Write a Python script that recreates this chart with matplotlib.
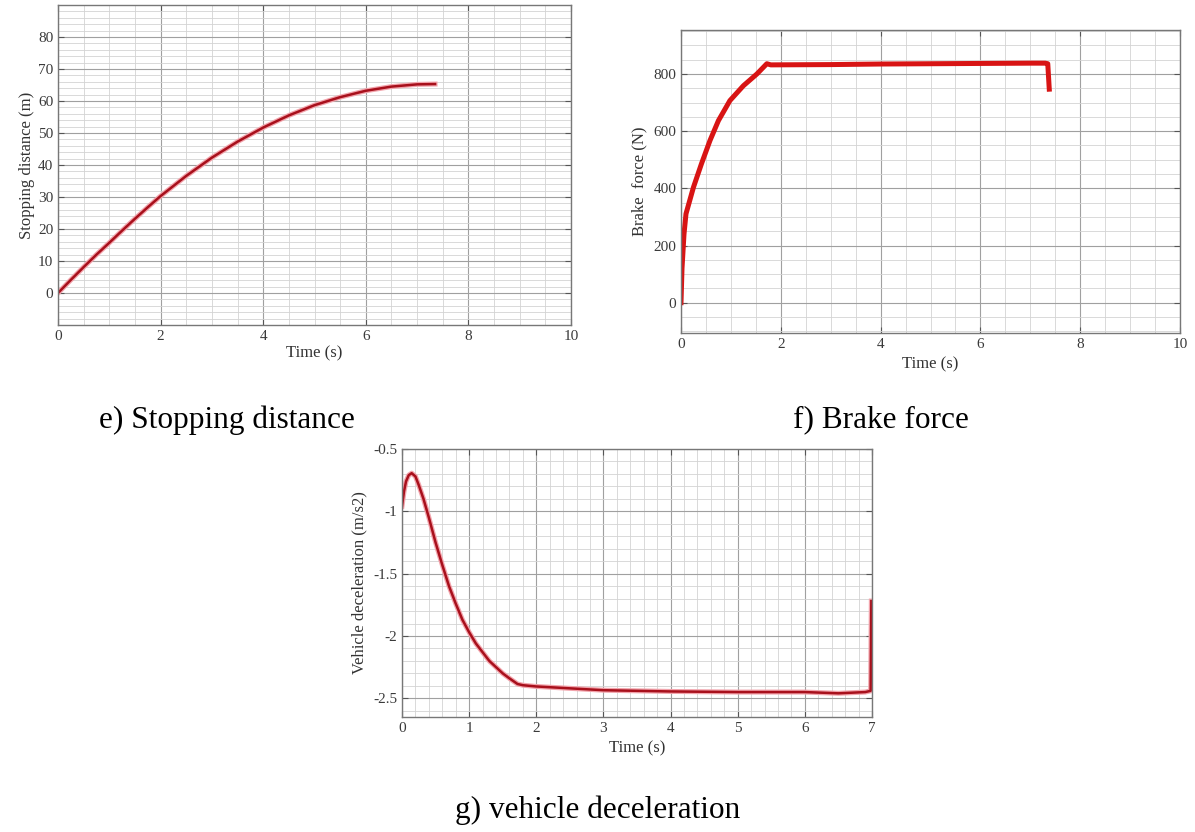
import matplotlib
matplotlib.use("Agg")
import matplotlib.pyplot as plt
import matplotlib.patheffects as pe
from matplotlib.ticker import MultipleLocator

plt.rcParams['font.family'] = ['Liberation Serif', 'DejaVu Serif']

# ---------------- data ----------------
# e) Stopping distance
t_dist = [0, 0.25, 0.5, 0.75, 1, 1.25, 1.5, 1.75, 2, 2.5, 3, 3.5, 4, 4.5, 5, 5.5,
          6, 6.5, 7, 7.35]
dist = [0, 4.1, 8.1, 12.0, 15.7, 19.5, 23.2, 26.8, 30.3, 36.6, 42.3, 47.3, 51.7,
        55.5, 58.7, 61.2, 63.2, 64.5, 65.2, 65.3]

# f) Brake force
t_force = [0, 0.02, 0.06, 0.1, 0.25, 0.41, 0.58, 0.75, 0.98, 1.25, 1.52, 1.72,
           1.8, 3, 4, 5, 6, 7, 7.3, 7.35, 7.38]
force = [0, 120, 240, 311, 404, 486, 567, 637, 707, 759, 800, 836,
         832, 833, 835, 836, 837, 838, 838, 836, 747]

# g) Vehicle deceleration
t_dec = [0, 0.03, 0.06, 0.1, 0.144, 0.2, 0.25, 0.32, 0.4, 0.5, 0.6, 0.7, 0.8,
         0.9, 1.0, 1.1, 1.2, 1.3, 1.4, 1.5, 1.6, 1.72, 1.8, 2, 2.5, 3, 3.5, 4, 5,
         6, 6.5, 6.9, 6.98, 6.99]
dec = [-0.96, -0.84, -0.76, -0.71, -0.694, -0.72, -0.79, -0.90, -1.05, -1.25,
       -1.43, -1.60, -1.74, -1.87, -1.97, -2.06, -2.13, -2.20, -2.25, -2.30, -2.34,
       -2.385, -2.395, -2.405, -2.42, -2.435, -2.44, -2.445, -2.45, -2.45, -2.46,
       -2.45, -2.44, -1.72]

captions = ["e) Stopping distance", "f) Brake force", "g) vehicle deceleration"]

W, H = 1195, 832
fig = plt.figure(figsize=(W / 100, H / 100), dpi=100)


def axes_px(l, t, r, b):
    return fig.add_axes([l / W, 1 - b / H, (r - l) / W, (b - t) / H])


def style(ax, xmaj, xmin, ymaj, ymin):
    ax.xaxis.set_major_locator(MultipleLocator(xmaj))
    ax.xaxis.set_minor_locator(MultipleLocator(xmin))
    ax.yaxis.set_major_locator(MultipleLocator(ymaj))
    ax.yaxis.set_minor_locator(MultipleLocator(ymin))
    ax.grid(which='major', color='#a0a0a0', lw=0.8)
    ax.grid(which='minor', color='#d3d3d3', lw=0.6)
    ax.set_axisbelow(True)
    ax.tick_params(which='both', direction='in', top=True, right=True,
                   labelsize=11, labelcolor='#3a3a3a', color='#555555')
    ax.tick_params(which='major', length=4)
    ax.tick_params(which='minor', length=0)
    for s in ax.spines.values():
        s.set_color('#777777')
        s.set_linewidth(1.0)


halo = [pe.Stroke(linewidth=3.6, foreground='#f2a3ab'), pe.Normal()]

# e
ax1 = axes_px(58, 5, 571, 325)
ax1.plot(t_dist, dist, color='#a8101c', lw=1.8, path_effects=halo)
ax1.set_xlim(0, 10)
ax1.set_ylim(-10, 90)
style(ax1, 2, 0.5, 10, 2)
ax1.set_yticks([0, 10, 20, 30, 40, 50, 60, 70, 80])
ax1.set_xlabel("Time (s)", fontsize=12, color='#333333', labelpad=2)
ax1.set_ylabel("Stopping distance (m)", fontsize=12, color='#333333', labelpad=2)

# f
ax2 = axes_px(681, 30, 1180, 333)
ax2.plot(t_force, force, color='#d81414', lw=3.6)
ax2.set_xlim(0, 10)
ax2.set_ylim(-106, 954)
style(ax2, 2, 0.5, 200, 50)
ax2.set_yticks([0, 200, 400, 600, 800])
ax2.set_xlabel("Time (s)", fontsize=12, color='#333333', labelpad=4)
ax2.set_ylabel("Brake  force (N)", fontsize=12, color='#333333', labelpad=4)

# g
ax3 = axes_px(402, 449, 872, 717)
ax3.plot(t_dec, dec, color='#a8101c', lw=1.8, path_effects=halo)
ax3.set_xlim(0, 7.0)
ax3.set_ylim(-2.65, -0.5)
style(ax3, 1, 0.2, 0.5, 0.1)
ax3.set_yticks([-2.5, -2, -1.5, -1, -0.5])
ax3.set_yticklabels(['-2.5', '-2', '-1.5', '-1', '-0.5'])
ax3.set_xlabel("Time (s)", fontsize=12, color='#333333', labelpad=4)
ax3.set_ylabel("Vehicle deceleration (m/s2)", fontsize=12, color='#333333', labelpad=4)

# captions
fig.text(99 / W, 1 - 420 / H, captions[0], fontsize=22.5, va='center', ha='left')
fig.text(793 / W, 1 - 420 / H, captions[1], fontsize=22.5, va='center', ha='left')
fig.text(598 / W, 1 - 810 / H, captions[2], fontsize=22.5, va='center', ha='center')

fig.savefig("out.png", dpi=100)
